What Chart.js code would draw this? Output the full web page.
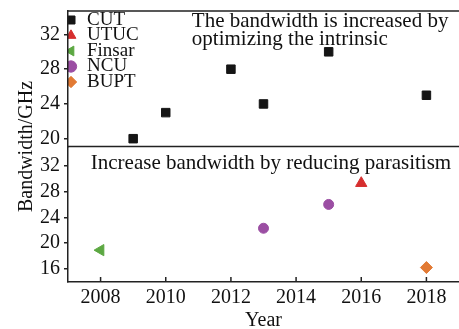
<!DOCTYPE html>
<html>
<head>
<meta charset="utf-8">
<script src="https://cdn.jsdelivr.net/npm/chart.js@4/dist/chart.umd.min.js"></script>
<style>
  html, body { margin: 0; padding: 0; background: #fff; overflow: hidden; }
  #wrap { width: 459px; height: 329px; }
</style>
</head>
<body>
<div id="wrap"><canvas id="c"></canvas></div>
<script>
// values
const cutYears = [2009, 2010, 2012, 2013, 2015, 2018];
const cutBandwidth = [20, 23, 28, 24, 30, 25];
const utucYears = [2016];
const utucBandwidth = [29.3];
const finsarYears = [2008];
const finsarBandwidth = [18.9];
const ncuYears = [2013, 2015];
const ncuBandwidth = [22.3, 26];
const buptYears = [2018];
const buptBandwidth = [16.2];

const yearTicks = [2008, 2010, 2012, 2014, 2016, 2018];
const topTicks = [20, 24, 28, 32];
const bottomTicks = [16, 20, 24, 28, 32];

const noteTop = ["The bandwidth is increased by", "optimizing the intrinsic"];
const noteBottom = "Increase bandwidth by reducing parasitism";

const FONT = '"Liberation Serif", "Times New Roman", serif';
const INK = "#111";
const LINE = "#222";

const pts = (xs, ys) => xs.map((x, i) => ({ x, y: ys[i] }));
const yTickFont = { family: FONT, size: 20, lineHeight: 0.7 };
const xTickFont = { family: FONT, size: 20, lineHeight: 1 };

// frame lines, inward year ticks and the two panel captions
const panelNotes = {
  id: "panelNotes",
  afterDatasetsDraw(chart) {
    const { ctx, chartArea, scales } = chart;
    const { x, yTop, yBot } = scales;
    ctx.save();
    ctx.strokeStyle = LINE;
    ctx.lineWidth = 1.5;
    ctx.beginPath();
    ctx.moveTo(chartArea.left, yTop.top);
    ctx.lineTo(chartArea.right, yTop.top);
    ctx.moveTo(chartArea.left, yTop.bottom);
    ctx.lineTo(chartArea.right, yTop.bottom);
    x.ticks.forEach((t) => {
      const px = x.getPixelForValue(t.value);
      ctx.moveTo(px, chartArea.bottom);
      ctx.lineTo(px, chartArea.bottom - 5);
    });
    ctx.stroke();

    ctx.fillStyle = INK;
    ctx.font = "21px " + FONT;
    ctx.textBaseline = "alphabetic";
    const tx = x.getPixelForValue(2010.8);
    ctx.fillText(noteTop[0], tx, yTop.top + 16);
    ctx.fillText(noteTop[1], tx, yTop.top + 34);
    ctx.fillText(noteBottom, x.getPixelForValue(2007.7), yBot.top + 22);
    ctx.restore();
  }
};

new Chart(document.getElementById("c"), {
  type: "scatter",
  data: {
    datasets: [
      {
        label: "CUT", data: pts(cutYears, cutBandwidth), yAxisID: "yTop",
        pointStyle: "rect", pointRadius: 6, backgroundColor: "#151515", borderColor: "#151515"
      },
      {
        label: "UTUC", data: pts(utucYears, utucBandwidth), yAxisID: "yBot",
        pointStyle: "triangle", pointRadius: 6.5, backgroundColor: "#d62e2e", borderColor: "#d62e2e"
      },
      {
        label: "Finsar", data: pts(finsarYears, finsarBandwidth), yAxisID: "yBot",
        pointStyle: "triangle", rotation: 270, pointRadius: 6.5, backgroundColor: "#5ca842", borderColor: "#5ca842"
      },
      {
        label: "NCU", data: pts(ncuYears, ncuBandwidth), yAxisID: "yBot",
        pointStyle: "circle", pointRadius: 5, backgroundColor: "#9b4ea3", borderColor: "#9b4ea3"
      },
      {
        label: "BUPT", data: pts(buptYears, buptBandwidth), yAxisID: "yBot",
        pointStyle: "rectRot", pointRadius: 6, backgroundColor: "#e27a34", borderColor: "#e27a34"
      }
    ]
  },
  options: {
    responsive: true,
    maintainAspectRatio: false,
    animation: false,
    layout: { autoPadding: false, padding: { left: 15, top: 11, right: 0, bottom: -2 } },
    plugins: {
      legend: {
        position: "chartArea",
        align: "start",
        title: { display: true, text: "", padding: 0, font: { size: 14, lineHeight: 1 } },
        labels: {
          usePointStyle: true,
          boxWidth: 13,
          boxHeight: 8,
          padding: -3.5,
          color: INK,
          font: { family: FONT, size: 19 }
        }
      },
      title: {
        display: true,
        text: "Bandwidth/GHz",
        position: "left",
        fullSize: false,
        color: INK,
        padding: { top: 2, bottom: -1 },
        font: { family: FONT, size: 20, weight: "normal", lineHeight: 1 }
      },
      tooltip: { enabled: false }
    },
    scales: {
      x: {
        type: "linear",
        min: 2007,
        max: 2019,
        afterBuildTicks: (s) => { s.ticks = yearTicks.map((v) => ({ value: v })); },
        ticks: { color: INK, font: xTickFont, padding: 6, autoSkip: false, maxRotation: 0, callback: (v) => String(v) },
        grid: { drawOnChartArea: false, drawTicks: false },
        border: { display: true, color: LINE, width: 1.5 },
        title: { display: true, text: "Year", color: INK, font: xTickFont, padding: { top: -3, bottom: 0 } }
      },
      yBot: {
        type: "linear",
        position: "left",
        stack: "bw",
        stackWeight: 1,
        min: 13.95,
        max: 35,
        afterBuildTicks: (s) => { s.ticks = bottomTicks.map((v) => ({ value: v })); },
        ticks: { color: INK, font: yTickFont, padding: 4, autoSkip: false },
        grid: { drawOnChartArea: false, tickLength: 4, color: LINE, lineWidth: 1.5 },
        border: { display: true, color: LINE, width: 1.5 }
      },
      yTop: {
        type: "linear",
        position: "left",
        stack: "bw",
        stackWeight: 1,
        min: 19.1,
        max: 34.7,
        afterBuildTicks: (s) => { s.ticks = topTicks.map((v) => ({ value: v })); },
        ticks: { color: INK, font: yTickFont, padding: 4, autoSkip: false },
        grid: { drawOnChartArea: false, tickLength: 4, color: LINE, lineWidth: 1.5 },
        border: { display: true, color: LINE, width: 1.5 }
      }
    }
  },
  plugins: [panelNotes]
});
</script>
</body>
</html>
